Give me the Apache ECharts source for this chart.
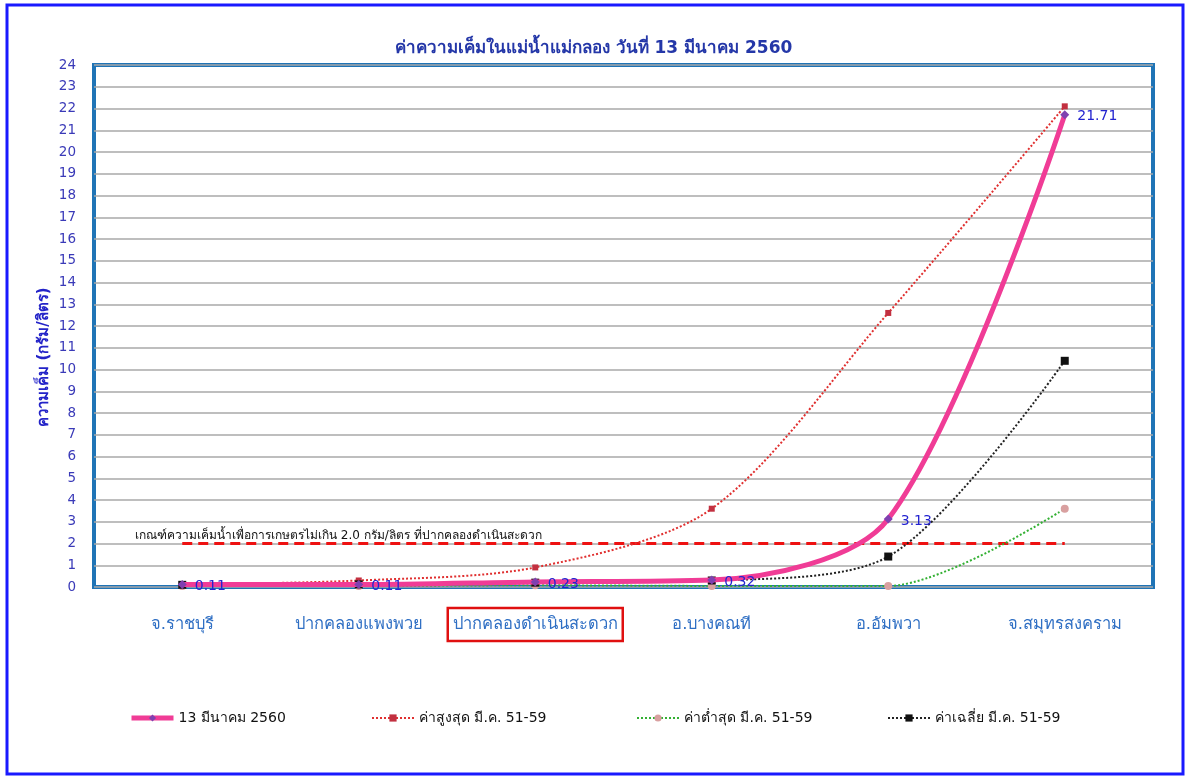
<!DOCTYPE html>
<html>
<head>
<meta charset="utf-8">
<script src="https://cdn.jsdelivr.net/npm/echarts@6/dist/echarts.min.js"></script>
<style>
  html, body { margin: 0; padding: 0; background: #fff; }
  #chart { width: 1187px; height: 777px; }
</style>
</head>
<body>
<div id="chart"></div>
<script>
// สถานีวัด
var categories = ['จ.ราชบุรี', 'ปากคลองแพงพวย', 'ปากคลองดำเนินสะดวก', 'อ.บางคณที', 'อ.อัมพวา', 'จ.สมุทรสงคราม']
var yTicks = [0, 24, 1]
var today = [0.11, 0.11, 0.23, 0.32, 3.13, 21.71]
var maxVal = [0.11, 0.3, 0.9, 3.6, 12.6, 22.1]
var minVal = [0.05, 0.05, 0.08, 0.05, 0.05, 3.6]
var avgVal = [0.1, 0.12, 0.2, 0.3, 1.4, 10.4]
var limit = [2, 2, 2, 2, 2, 2]
var limitText = 'เกณฑ์ความเค็มน้ำเพื่อการเกษตรไม่เกิน 2.0 กรัม/ลิตร ที่ปากคลองดำเนินสะดวก'
var yName = 'ความเค็ม (กรัม/ลิตร)'
var seriesNames = ['13 มีนาคม 2560', 'ค่าสูงสุด มี.ค. 51-59', 'ค่าต่ำสุด มี.ค. 51-59', 'ค่าเฉลี่ย มี.ค. 51-59']

var font = 'Tahoma, "DejaVu Sans", "Noto Sans", sans-serif'
var chart = echarts.init(document.getElementById('chart'))

// one legend per item so they sit where the original has them
var legendLeft = [124, 366, 631, 882]
var legends = seriesNames.map(function (n, i) {
  return {
    bottom: 47,
    left: legendLeft[i],
    itemWidth: 42,
    itemHeight: 9,
    textStyle: { color: '#111', fontSize: 14, fontFamily: font },
    data: [i === 0 ? { name: n, lineStyle: { width: 5 } } : n]
  }
})

var xLabelColor = '#2f6fc4'

var option = {
  animation: false,
  textStyle: { fontFamily: font },
  title: [
    {
      text: 'ค่าความเค็มในแม่น้ำแม่กลอง วันที่ 13 มีนาคม 2560',
      left: 'center',
      top: 35,
      textStyle: { color: '#2437a8', fontSize: 17, fontWeight: 'bold', fontFamily: font }
    },
    {
      text: limitText,
      left: 130,
      top: 525,
      textStyle: { color: '#111', fontSize: 12, fontWeight: 'normal', fontFamily: font }
    }
  ],
  graphic: [
    {
      type: 'rect',
      shape: { x: 7, y: 5, width: 1176, height: 769 },
      style: { fill: 'none', stroke: '#1a1aff', lineWidth: 3 },
      silent: true
    },
    {
      type: 'text',
      x: 44,
      y: 357,
      rotation: Math.PI / 2,
      style: {
        text: yName,
        fill: '#2323c8',
        font: 'bold 15px ' + font,
        align: 'center',
        verticalAlign: 'middle'
      },
      silent: true
    }
  ],
  legend: legends,
  grid: {
    left: 94,
    right: 34,
    top: 65,
    bottom: 190,
    show: true,
    backgroundColor: '#fff',
    borderColor: '#1f74b6',
    borderWidth: 4
  },
  xAxis: {
    type: 'category',
    data: categories,
    boundaryGap: true,
    axisLine: { show: false },
    axisTick: { show: false },
    axisLabel: {
      margin: 21,
      interval: 0,
      formatter: function (v, i) {
        return i === 2 ? '{box|' + v + '}' : '{plain|' + v + '}'
      },
      rich: {
        plain: {
          color: xLabelColor,
          fontSize: 16.5,
          fontFamily: font,
          padding: [8, 5, 8, 5]
        },
        box: {
          color: xLabelColor,
          fontSize: 16.5,
          fontFamily: font,
          borderColor: '#e01010',
          borderWidth: 2.5,
          padding: [8, 5, 8, 5]
        }
      }
    }
  },
  yAxis: {
    type: 'value',
    min: yTicks[0],
    max: yTicks[1],
    interval: yTicks[2],
    axisLine: { show: false },
    axisTick: { show: false },
    axisLabel: { color: '#3a3ab8', fontSize: 13.5, margin: 18, fontFamily: font },
    splitLine: { lineStyle: { color: '#a8a8a8', width: 1.5 } }
  },
  series: [
    {
      name: 'limit',
      type: 'line',
      data: limit,
      symbol: 'none',
      lineStyle: { color: '#ee1111', width: 3, type: [10, 6] },
      z: 1
    },
    {
      name: seriesNames[2],
      type: 'line',
      data: minVal,
      smooth: 0.3,
      symbol: 'circle',
      symbolSize: 8,
      itemStyle: { color: '#d9a0a0' },
      lineStyle: { color: '#33b033', width: 2, type: 'dotted' },
      z: 2
    },
    {
      name: seriesNames[1],
      type: 'line',
      data: maxVal,
      smooth: 0.3,
      symbol: 'rect',
      symbolSize: 6,
      itemStyle: { color: '#c23040' },
      lineStyle: { color: '#e03030', width: 2, type: 'dotted' },
      z: 3
    },
    {
      name: seriesNames[0],
      type: 'line',
      data: today,
      smooth: 0.3,
      symbol: 'diamond',
      symbolSize: 9,
      itemStyle: { color: '#8040b0' },
      lineStyle: { color: '#f03c96', width: 5 },
      label: {
        show: true,
        position: 'right',
        distance: 8,
        offset: [0, 2],
        color: '#2323d0',
        fontSize: 14,
        fontFamily: font
      },
      z: 5
    },
    {
      name: seriesNames[3],
      type: 'line',
      data: avgVal,
      smooth: 0.3,
      symbol: 'rect',
      symbolSize: 8,
      itemStyle: { color: '#111' },
      lineStyle: { color: '#222', width: 2, type: 'dotted' },
      z: 4
    }
  ]
}

chart.setOption(option)
</script>
</body>
</html>
